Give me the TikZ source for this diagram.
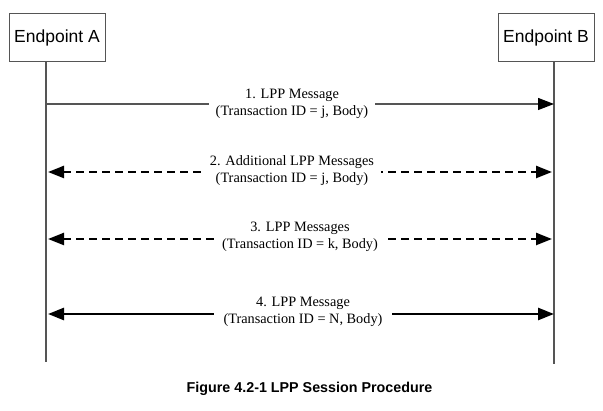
\documentclass[tikz,border=0pt]{standalone}
\usepackage{fontspec}
\setmainfont{Liberation Serif}
\newfontfamily\arialf{Liberation Sans}
\usetikzlibrary{arrows.meta}
\definecolor{linegray}{HTML}{555555}
\begin{document}
\begin{tikzpicture}[x=1pt,y=-1pt,
  endpoint/.style={draw=linegray, line width=1pt, minimum width=96pt, minimum height=48pt, inner sep=0pt, font=\arialf\fontsize{17.5}{20}\selectfont},
  lifeline/.style={draw=linegray, line width=1.2pt},
  msg/.style={font=\fontsize{14.3}{17}\selectfont, align=center, fill=white, inner xsep=7pt, inner ysep=1pt},
  tip/.style={-{Triangle[length=16pt,width=12pt,color=black,fill=black]}},
  dtip/.style={{Triangle[length=16pt,width=12pt]}-{Triangle[length=16pt,width=12pt]}},
  thinmsg/.style={draw=linegray, line width=1.3pt, tip},
  dashmsg/.style={draw=black, line width=2.4pt, dash pattern=on 8pt off 5pt, dtip},
  solidmsg/.style={draw=black, line width=2.6pt, dtip},
  caption/.style={font=\arialf\bfseries\fontsize{14.3}{17}\selectfont}
]
\useasboundingbox (0,0) rectangle (603,411);

\node[endpoint] (A) at (57,38) {Endpoint A};
\node[endpoint] (B) at (546,38) {Endpoint B};

\coordinate (At) at (46,62);
\coordinate (Ab) at (46,362);
\coordinate (Bt) at (554,62);
\coordinate (Bb) at (554,364);
\draw[lifeline] (At) -- (Ab);
\draw[lifeline] (Bt) -- (Bb);

\coordinate (a1) at (47,104);
\coordinate (b1) at (554,104);
\coordinate (a2) at (48,172);
\coordinate (b2) at (552,172);
\coordinate (a3) at (48,239);
\coordinate (b3) at (552,239);
\coordinate (a4) at (48,314);
\coordinate (b4) at (554,314);

\draw[thinmsg] (a1) -- (b1);
\draw[dashmsg] (a2) -- (b2);
\draw[dashmsg] (a3) -- (b3);
\draw[solidmsg] (a4) -- (b4);

\node[msg] (m1) at (292,103.5) {1. LPP Message\\(Transaction ID = j, Body)};
\node[msg] (m2) at (292,171) {2. Additional LPP Messages\\(Transaction ID = j, Body)};
\node[msg] (m3) at (300,237) {3. LPP Messages\\(Transaction ID = k, Body)};
\node[msg, inner xsep=10pt] (m4) at (303,311.5) {4. LPP Message\\(Transaction ID = N, Body)};

\node[caption] (cap) at (309.5,389) {Figure 4.2-1 LPP Session Procedure};
\end{tikzpicture}
\end{document}
